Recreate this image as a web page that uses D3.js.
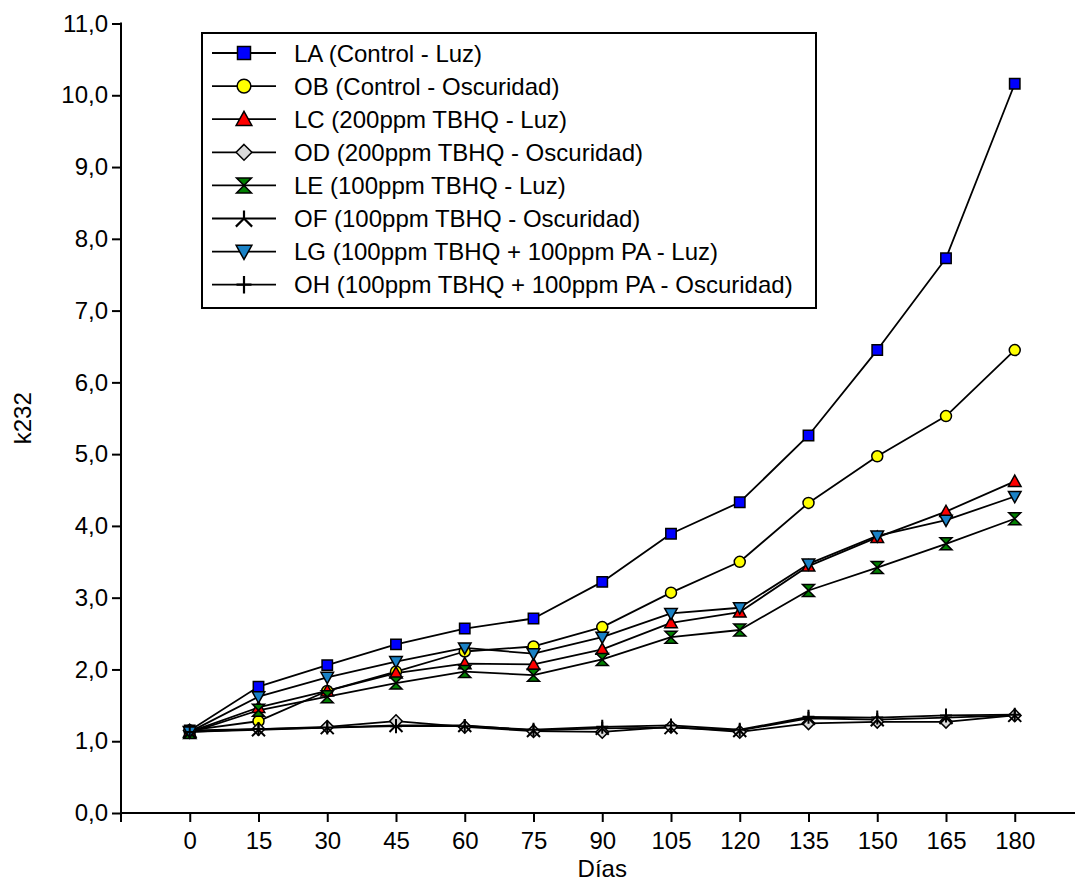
<!DOCTYPE html>
<html>
<head>
<meta charset="utf-8">
<script src="https://cdn.jsdelivr.net/npm/d3@7"></script>
<style>
  html, body { margin: 0; padding: 0; background: #fff; }
  svg { display: block; font-family: "Liberation Sans", Arial, sans-serif; }
</style>
</head>
<body>
<svg id="chart" width="1075" height="892"></svg>
<script>
// ---- data ----
const days = [0, 15, 30, 45, 60, 75, 90, 105, 120, 135, 150, 165, 180];
const yTicks = [0, 1, 2, 3, 4, 5, 6, 7, 8, 9, 10, 11];

const LA = [1.15, 1.76, 2.06, 2.35, 2.57, 2.71, 3.22, 3.89, 4.33, 5.26, 6.45, 7.73, 10.16];
const OB = [1.15, 1.28, 1.70, 1.97, 2.25, 2.32, 2.59, 3.07, 3.50, 4.32, 4.97, 5.53, 6.45];
const LC = [1.13, 1.47, 1.70, 1.95, 2.08, 2.07, 2.28, 2.65, 2.80, 3.44, 3.84, 4.20, 4.62];
const OD = [1.15, 1.17, 1.20, 1.28, 1.20, 1.14, 1.13, 1.20, 1.13, 1.25, 1.27, 1.27, 1.36];
const LE = [1.12, 1.43, 1.62, 1.81, 1.97, 1.92, 2.14, 2.45, 2.55, 3.10, 3.42, 3.75, 4.10];
const OF = [1.13, 1.16, 1.19, 1.22, 1.22, 1.15, 1.18, 1.19, 1.15, 1.32, 1.30, 1.33, 1.36];
const LG = [1.13, 1.62, 1.89, 2.11, 2.30, 2.22, 2.45, 2.78, 2.86, 3.47, 3.86, 4.08, 4.41];
const OH = [1.13, 1.17, 1.19, 1.21, 1.21, 1.16, 1.20, 1.22, 1.16, 1.34, 1.33, 1.36, 1.37];

const seriesNames = [
  "LA (Control - Luz)",
  "OB (Control - Oscuridad)",
  "LC (200ppm TBHQ - Luz)",
  "OD (200ppm TBHQ - Oscuridad)",
  "LE (100ppm TBHQ - Luz)",
  "OF (100ppm TBHQ - Oscuridad)",
  "LG (100ppm TBHQ + 100ppm PA - Luz)",
  "OH (100ppm TBHQ + 100ppm PA - Oscuridad)"
];
const seriesValues = [LA, OB, LC, OD, LE, OF, LG, OH];
const seriesSymbols = ["square", "circle", "triUp", "diamond", "hourglass", "lambda", "triDown", "plus"];
const seriesColors = ["#0000ff", "#ffff00", "#ff0000", "#d9d9d9", "#008000", "none", "#1a82c6", "none"];

const xTitle = "Días";
const yTitle = "k232";

// ---- layout ----
const svg = d3.select("#chart");
const x = d3.scaleLinear().domain([-15, 195]).range([121, 121 + 14 * 68.75]);
const y = d3.scaleLinear().domain([0, 11]).range([813, 23.5]);
const FONT = 24;

// symbols
function symbolPath(type, k) {
  const p = d3.path();
  if (type === "square") {
    const s = 5.2 * k; p.rect(-s, -s, 2 * s, 2 * s);
  } else if (type === "circle") {
    const r = 5.5 * k; p.moveTo(r, 0); p.arc(0, 0, r, 0, 2 * Math.PI);
  } else if (type === "triUp") {
    const w = 6.3 * k; p.moveTo(0, -6.3 * k); p.lineTo(w, 5 * k); p.lineTo(-w, 5 * k); p.closePath();
  } else if (type === "triDown") {
    const w = 6.3 * k; p.moveTo(-w, -5 * k); p.lineTo(w, -5 * k); p.lineTo(0, 6.3 * k); p.closePath();
  } else if (type === "diamond") {
    const d = 6.3 * k; p.moveTo(0, -d); p.lineTo(d, 0); p.lineTo(0, d); p.lineTo(-d, 0); p.closePath();
  } else if (type === "hourglass") {
    const w = 6 * k, h = 6 * k; p.moveTo(-w, -h); p.lineTo(w, -h); p.lineTo(-w, h); p.lineTo(w, h); p.closePath();
  } else if (type === "lambda") {
    const d = 6.5 * k; p.moveTo(0, -d); p.lineTo(0, 0); p.moveTo(-d, d); p.lineTo(0, 0); p.lineTo(d, d);
  } else if (type === "plus") {
    const d = 7 * k, h = 6 * k; p.moveTo(0, -d); p.lineTo(0, d); p.moveTo(-h, 0); p.lineTo(h, 0);
  }
  return p.toString();
}

// ---- axes ----
const fmt = v => d3.format(".1f")(v).replace(".", ",");
const yAxis = d3.axisLeft(y).tickValues(yTicks).tickFormat(fmt).tickSize(9).tickPadding(4);
const xAxis = d3.axisBottom(x).tickValues(days).tickFormat(d3.format("d")).tickSize(9).tickPadding(10);

const gy = svg.append("g").attr("transform", `translate(${x(-15)},0)`).call(yAxis);
const gx = svg.append("g").attr("transform", `translate(0,${y(0)})`).call(xAxis);
[gx, gy].forEach(g => {
  g.select(".domain").remove();
  g.selectAll(".tick line").attr("stroke", "#000").attr("stroke-width", 2);
  g.selectAll(".tick text").attr("fill", "#000").style("font-size", FONT + "px")
    .style("font-family", "'Liberation Sans', Arial, sans-serif");
});
// axis lines
svg.append("line").attr("x1", x(-15)).attr("x2", x(-15)).attr("y1", y(11) - 1).attr("y2", y(0) + 9)
  .attr("stroke", "#000").attr("stroke-width", 2);
svg.append("line").attr("x1", x(-15)).attr("x2", 1075).attr("y1", y(0)).attr("y2", y(0))
  .attr("stroke", "#000").attr("stroke-width", 2);

// titles
svg.append("text").attr("x", (x(0) + x(180)) / 2).attr("y", 877).attr("text-anchor", "middle")
  .style("font-size", FONT + "px").attr("fill", "#000").text(xTitle);
svg.append("text").attr("transform", `translate(31,${(y(0) + y(11)) / 2}) rotate(-90)`)
  .attr("text-anchor", "middle").style("font-size", FONT + "px").attr("fill", "#000").text(yTitle);

// ---- series ----
const line = d3.line().x((d, i) => x(days[i])).y(d => y(d));
const gLines = svg.append("g");
seriesValues.forEach(vals => {
  gLines.append("path").attr("d", line(vals)).attr("fill", "none")
    .attr("stroke", "#000").attr("stroke-width", 1.8).attr("stroke-linejoin", "round");
});
const gMarks = svg.append("g");
seriesValues.forEach((vals, si) => {
  const sym = seriesSymbols[si];
  const open = sym === "lambda" || sym === "plus";
  gMarks.selectAll(null).data(vals).enter().append("path")
    .attr("transform", (d, i) => `translate(${x(days[i])},${y(d)})`)
    .attr("d", symbolPath(sym, 1))
    .attr("fill", open ? "none" : seriesColors[si])
    .attr("stroke", "#000").attr("stroke-width", open ? 2 : 1.5)
    .attr("stroke-linejoin", "miter");
});

// ---- legend ----
const lg = svg.append("g");
lg.append("rect").attr("x", 202).attr("y", 33).attr("width", 614).attr("height", 275)
  .attr("fill", "#fff").attr("stroke", "#000").attr("stroke-width", 2);
const rowY = i => 53 + i * 33.1;
seriesNames.forEach((name, i) => {
  const sym = seriesSymbols[i];
  const open = sym === "lambda" || sym === "plus";
  lg.append("line").attr("x1", 212).attr("x2", 276).attr("y1", rowY(i)).attr("y2", rowY(i))
    .attr("stroke", "#000").attr("stroke-width", 1.8);
  lg.append("path").attr("transform", `translate(244,${rowY(i)})`).attr("d", symbolPath(sym, 1.25))
    .attr("fill", open ? "none" : seriesColors[i]).attr("stroke", "#000").attr("stroke-width", open ? 2.2 : 1.5);
  lg.append("text").attr("x", 294).attr("y", rowY(i)).attr("dy", "0.36em")
    .style("font-size", FONT + "px").attr("fill", "#000").text(name);
});
</script>
</body>
</html>
